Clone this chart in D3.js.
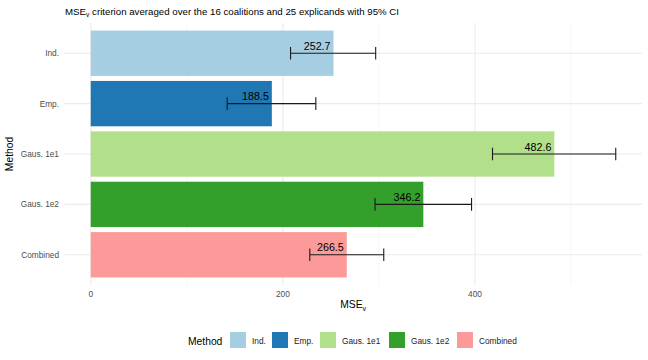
<!DOCTYPE html>
<html>
<head>
<meta charset="utf-8">
<script src="https://cdn.jsdelivr.net/npm/d3@7"></script>
<style>
  body { margin: 0; background: #fff; }
  text { font-family: "Liberation Sans", Arial, sans-serif; }
</style>
</head>
<body>
<script>
// data
var methods = ["Ind.", "Emp.", "Gaus. 1e1", "Gaus. 1e2", "Combined"];
var means   = [252.7, 188.5, 482.6, 346.2, 266.5];
var lower   = [208.0, 142.0, 418.2, 295.9, 228.0];
var upper   = [296.6, 234.3, 546.5, 396.4, 305.0];
var colors  = ["#A6CEE3", "#1F78B4", "#B2DF8A", "#33A02C", "#FB9A99"];
var xTicks  = [0, 200, 400];
var xMinor  = [100, 300, 500];

var rows = methods.map(function(m, i) {
  return { method: m, mean: means[i], lo: lower[i], hi: upper[i], color: colors[i] };
});

var width = 648, height = 360;
var panel = { left: 64.5, right: 642, top: 23, bottom: 285 };

var svg = d3.select("body").append("svg")
  .attr("width", width)
  .attr("height", height);

// x scale with ggplot style 5% expansion
var xmax = d3.max(upper);
var x = d3.scaleLinear()
  .domain([-0.05 * xmax, xmax * 1.05])
  .range([panel.left, panel.right]);

var step = (panel.bottom - panel.top) / (methods.length + 0.2);
var y = d3.scalePoint()
  .domain(methods)
  .range([panel.top + 0.6 * step, panel.bottom - 0.6 * step]);

var barH = step * 0.9;

// grid
var grid = svg.append("g");
grid.selectAll(".minor").data(xMinor).enter().append("line")
  .attr("x1", function(d) { return x(d); }).attr("x2", function(d) { return x(d); })
  .attr("y1", panel.top).attr("y2", panel.bottom)
  .attr("stroke", "#f2f2f2").attr("stroke-width", 0.6);
grid.selectAll(".major").data(xTicks).enter().append("line")
  .attr("x1", function(d) { return x(d); }).attr("x2", function(d) { return x(d); })
  .attr("y1", panel.top).attr("y2", panel.bottom)
  .attr("stroke", "#ebebeb").attr("stroke-width", 1.1);
grid.selectAll(".ygrid").data(methods).enter().append("line")
  .attr("x1", panel.left).attr("x2", panel.right)
  .attr("y1", function(d) { return y(d); }).attr("y2", function(d) { return y(d); })
  .attr("stroke", "#ebebeb").attr("stroke-width", 1.1);

// bars
svg.selectAll(".bar").data(rows).enter().append("rect")
  .attr("x", x(0))
  .attr("y", function(d) { return y(d.method) - barH / 2; })
  .attr("width", function(d) { return x(d.mean) - x(0); })
  .attr("height", barH)
  .attr("fill", function(d) { return d.color; });

// error bars
var capH = step * 0.25;
var eb = svg.selectAll(".eb").data(rows).enter().append("g")
  .attr("stroke", "#1a1a1a").attr("stroke-width", 1.1).attr("fill", "none");
eb.append("line")
  .attr("x1", function(d) { return x(d.lo); }).attr("x2", function(d) { return x(d.hi); })
  .attr("y1", function(d) { return y(d.method); }).attr("y2", function(d) { return y(d.method); });
eb.append("line")
  .attr("x1", function(d) { return x(d.lo); }).attr("x2", function(d) { return x(d.lo); })
  .attr("y1", function(d) { return y(d.method) - capH / 2; })
  .attr("y2", function(d) { return y(d.method) + capH / 2; });
eb.append("line")
  .attr("x1", function(d) { return x(d.hi); }).attr("x2", function(d) { return x(d.hi); })
  .attr("y1", function(d) { return y(d.method) - capH / 2; })
  .attr("y2", function(d) { return y(d.method) + capH / 2; });

// value labels
svg.selectAll(".lab").data(rows).enter().append("text")
  .attr("x", function(d) { return x(d.mean) - 3; })
  .attr("y", function(d) { return y(d.method) - 3.5; })
  .attr("text-anchor", "end")
  .attr("font-size", 10.7)
  .attr("fill", "#000")
  .text(function(d) { return d.mean.toFixed(1); });

// x tick labels
svg.selectAll(".xt").data(xTicks).enter().append("text")
  .attr("x", function(d) { return x(d); })
  .attr("y", 296.5)
  .attr("text-anchor", "middle")
  .attr("font-size", 8.3)
  .attr("fill", "#4d4d4d")
  .text(function(d) { return d; });

// y tick labels
svg.selectAll(".yt").data(methods).enter().append("text")
  .attr("x", 59)
  .attr("y", function(d) { return y(d) + 3; })
  .attr("text-anchor", "end")
  .attr("font-size", 8.3)
  .attr("fill", "#4d4d4d")
  .text(function(d) { return d; });

// subscript helper
function mseV(sel, size) {
  sel.append("tspan").text("MSE");
  sel.append("tspan").attr("font-size", size * 0.7).attr("dy", size * 0.25).text("v");
}

// axis titles
var xt = svg.append("text")
  .attr("x", (panel.left + panel.right) / 2)
  .attr("y", 308)
  .attr("text-anchor", "middle")
  .attr("font-size", 10.3)
  .attr("fill", "#000");
mseV(xt, 10.3);

svg.append("text")
  .attr("transform", "translate(13," + ((panel.top + panel.bottom) / 2) + ") rotate(-90)")
  .attr("text-anchor", "middle")
  .attr("font-size", 10.3)
  .attr("fill", "#000")
  .text("Method");

// title
var title = svg.append("text")
  .attr("x", 65)
  .attr("y", 15)
  .attr("font-size", 9.7)
  .attr("fill", "#000");
mseV(title, 9.7);
title.append("tspan").attr("dy", -9.7 * 0.25).text(" criterion averaged over the 16 coalitions and 25 explicands with 95% CI");

// legend
var legend = svg.append("g");
legend.append("text")
  .attr("x", 188).attr("y", 344.5)
  .attr("font-size", 10.3).attr("fill", "#000")
  .text("Method");
var keyX = [230, 272, 320, 389, 457];
var items = legend.selectAll(".li").data(rows).enter().append("g")
  .attr("transform", function(d, i) { return "translate(" + keyX[i] + ",332)"; });
items.append("rect")
  .attr("width", 16).attr("height", 16)
  .attr("fill", function(d) { return d.color; });
items.append("text")
  .attr("x", 22).attr("y", 11.5)
  .attr("font-size", 8.3).attr("fill", "#1a1a1a")
  .text(function(d) { return d.method; });
</script>
</body>
</html>
